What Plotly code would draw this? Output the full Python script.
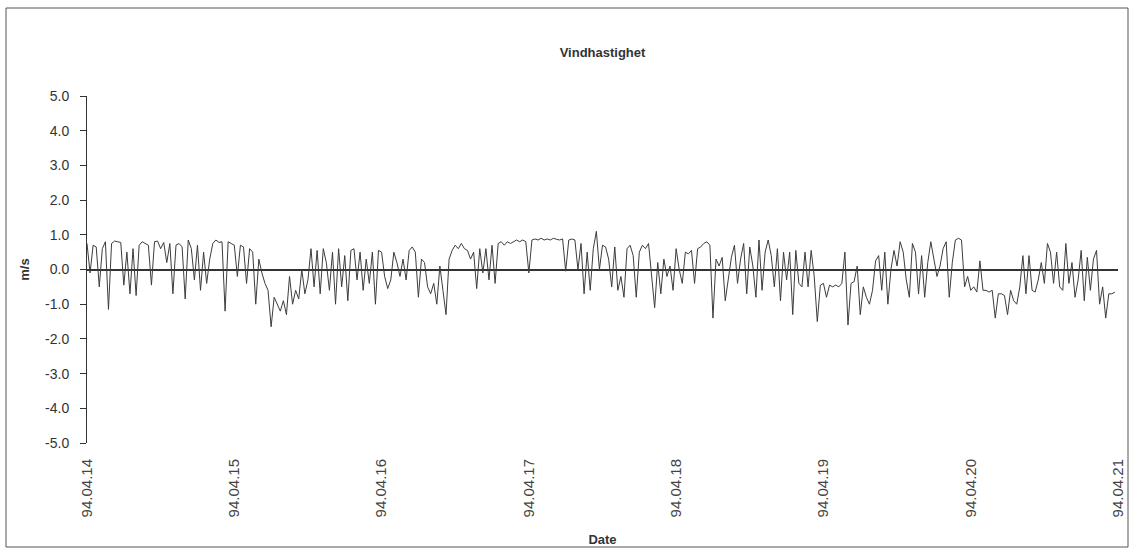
import pandas as pd
import plotly.graph_objects as go

# Wind speed, half-hourly readings (m/s), one list per day
day_14 = [0.75, -0.1, 0.7, 0.65, -0.5, 0.6, 0.8, -1.15, 0.75, 0.82, 0.8, 0.78,
          -0.45, 0.5, -0.7, 0.6, -0.75, 0.7, 0.8, 0.75, 0.7, -0.45, 0.8, 0.82,
          0.6, 0.78, 0.2, 0.75, -0.7, 0.7, 0.75, 0.65, -0.85, 0.85, 0.6, -0.3,
          0.7, -0.6, 0.5, -0.4, 0.3, 0.75, 0.85, 0.78, 0.8, -1.2, 0.8, 0.75]
day_15 = [0.7, -0.2, 0.7, 0.65, -0.4, 0.6, 0.5, -1.0, 0.3, -0.1, -0.4, -0.6,
          -1.65, -0.8, -1.0, -1.2, -0.9, -1.3, -0.2, -1.0, -0.6, -0.85, 0.0, -0.7,
          -0.3, 0.6, -0.5, 0.55, -0.7, 0.6, 0.2, -0.6, 0.5, -1.0, 0.6, -0.5,
          0.4, -0.9, 0.55, 0.6, -0.3, 0.5, -0.6, 0.3, -0.4, 0.5, -1.0, 0.55]
day_16 = [0.5, -0.2, -0.55, -0.3, 0.5, 0.2, -0.2, 0.3, -0.3, 0.55, 0.65, 0.5,
          -0.8, 0.3, 0.2, -0.5, -0.7, -0.4, -1.0, 0.1, -0.6, -1.3, 0.3, 0.55,
          0.7, 0.6, 0.75, 0.6, 0.55, 0.3, 0.5, -0.55, 0.6, -0.1, 0.6, -0.3,
          0.7, -0.4, 0.75, 0.8, 0.7, 0.8, 0.75, 0.8, 0.85, 0.8, 0.85, 0.8]
day_17 = [-0.1, 0.85, 0.88, 0.85, 0.9, 0.85, 0.88, 0.85, 0.9, 0.87, 0.85, 0.88,
          -0.05, 0.85, 0.88, 0.85, 0.0, 0.75, -0.7, 0.5, -0.6, 0.6, 1.1, 0.0,
          0.7, 0.65, 0.3, -0.5, 0.65, -0.6, -0.2, -0.8, 0.6, 0.7, 0.4, -0.8,
          0.5, 0.7, 0.6, 0.75, -0.3, -1.1, 0.2, -0.7, 0.3, -0.2, 0.1, -0.6]
day_18 = [0.6, 0.0, -0.4, 0.5, 0.45, 0.55, -0.4, 0.6, 0.65, 0.75, 0.8, 0.7,
          -1.4, 0.3, 0.1, 0.35, -0.9, -0.2, 0.35, 0.7, -0.4, 0.3, 0.75, -0.7,
          0.65, 0.1, -0.8, 0.85, -0.6, 0.5, 0.85, 0.4, -0.5, 0.6, -0.9, 0.5,
          -0.3, 0.5, -1.3, 0.55, -0.4, -0.5, 0.5, -0.5, 0.55, -0.2, -1.5, -0.45]
day_19 = [-0.4, -0.8, -0.45, -0.5, -0.45, -0.5, -0.4, 0.5, -1.6, -0.4, -0.35, 0.1,
          -1.3, -0.5, -0.8, -1.0, -0.6, 0.25, 0.4, -0.6, 0.5, -1.0, 0.0, 0.55,
          0.1, 0.8, 0.5, -0.3, -0.8, 0.75, 0.5, -0.7, 0.4, -0.8, 0.2, 0.8,
          0.3, -0.2, 0.1, 0.6, 0.8, -0.8, 0.2, 0.85, 0.9, 0.85, -0.5, -0.2]
day_20 = [-0.6, -0.5, -0.65, 0.25, -0.6, -0.6, -0.65, -0.6, -1.4, -0.7, -0.7, -0.75,
          -1.3, -0.6, -0.9, -1.0, -0.5, 0.4, -0.7, 0.4, -0.6, -0.65, -0.3, 0.2,
          -0.4, 0.75, 0.5, -0.4, 0.5, -0.5, -0.6, 0.75, -0.4, 0.2, -0.8, -0.3,
          0.55, -0.9, 0.35, -0.6, 0.3, 0.55, -1.0, -0.5, -1.4, -0.7, -0.7, -0.65]

speed = day_14 + day_15 + day_16 + day_17 + day_18 + day_19 + day_20
times = pd.date_range("1994-04-14", periods=len(speed), freq="30min")

tick_days = pd.date_range("1994-04-14", "1994-04-21", freq="D")
tick_text = [d.strftime("%y.%m.%d") for d in tick_days]
y_ticks = [-5, -4, -3, -2, -1, 0, 1, 2, 3, 4, 5]
y_text = [f"{v:.1f}" for v in y_ticks]

FONT = "Liberation Sans, Arial, sans-serif"
INK = "#333333"

fig = go.Figure()
fig.add_trace(go.Scatter(
    x=times, y=speed, mode="lines",
    line=dict(color="#3c3c3c", width=1),
    showlegend=False, hoverinfo="skip",
))

W, H = 1133, 549
ml, mr, mt, mb = 87, 15, 96, 106

fig.update_layout(
    width=W, height=H,
    margin=dict(l=ml, r=mr, t=mt, b=mb, pad=0, autoexpand=False),
    paper_bgcolor="white", plot_bgcolor="white",
    font=dict(family=FONT, size=12, color=INK),
    title=dict(text="<b>Vindhastighet</b>", x=0.5, xref="paper",
               xanchor="center", y=1 - 52 / H, yanchor="middle",
               font=dict(family=FONT, size=13, color=INK)),
    xaxis=dict(
        type="date", automargin=False,
        range=[tick_days[0], tick_days[-1]],
        tickvals=list(tick_days), ticktext=tick_text,
        tickangle=-90, ticks="", showgrid=False, showline=False,
        zeroline=False, ticklabelstandoff=12,
        tickfont=dict(family=FONT, size=15, color="#444444"),
        title=dict(text="<b>Date</b>", standoff=18,
                   font=dict(family=FONT, size=13, color=INK)),
    ),
    yaxis=dict(
        automargin=False,
        range=[-5, 5], tickvals=y_ticks, ticktext=y_text,
        ticks="outside", ticklen=6, tickcolor=INK,
        showline=True, linecolor=INK, linewidth=1,
        showgrid=False, zeroline=True, zerolinecolor=INK,
        zerolinewidth=1.5, ticklabelstandoff=8,
        tickfont=dict(family=FONT, size=14, color=INK),
        title=dict(text="<b>m/s</b>", standoff=12,
                   font=dict(family=FONT, size=13, color=INK)),
    ),
)

# chart-area border
pw = W - ml - mr
ph = H - mt - mb
fig.add_shape(type="rect", xref="paper", yref="paper",
              x0=(6 - ml) / pw, x1=(1128 - ml) / pw,
              y0=(H - 547 - mb) / ph, y1=(H - 8 - mb) / ph,
              line=dict(color="#555555", width=1), fillcolor="rgba(0,0,0,0)")

fig.write_html("out.html")
